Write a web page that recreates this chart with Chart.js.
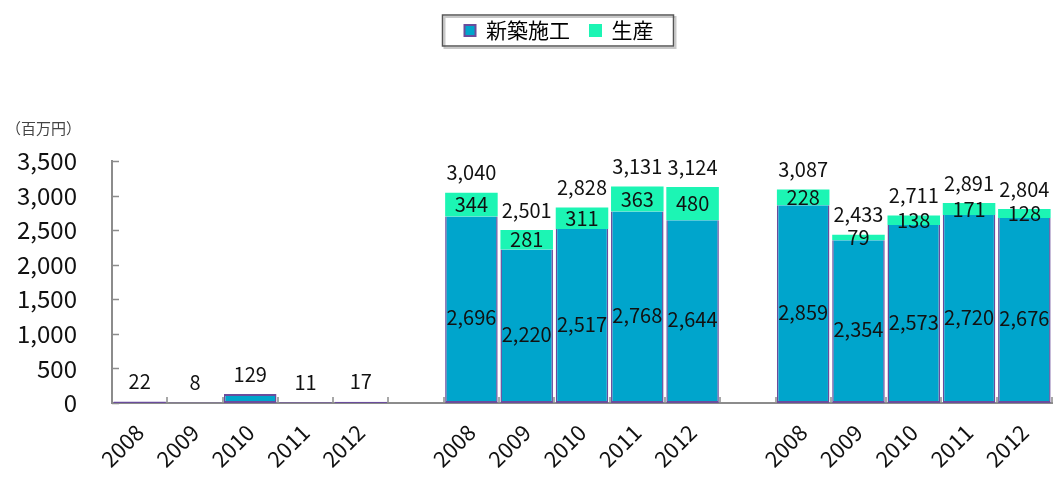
<!DOCTYPE html>
<html>
<head>
<meta charset="utf-8">
<script src="https://cdn.jsdelivr.net/npm/chart.js@4/dist/chart.umd.min.js"></script>
<style>
  body { margin: 0; background: #fff; }
  #wrap { width: 1058px; height: 477px; }
</style>
</head>
<body>
<div id="wrap"><canvas id="chart" width="1058" height="477"></canvas></div>
<script>
const years = ['2008', '2009', '2010', '2011', '2012', '', '2008', '2009', '2010', '2011', '2012', '', '2008', '2009', '2010', '2011', '2012'];
const shinchiku = [22, 8, 129, 11, 17, null, 2696, 2220, 2517, 2768, 2644, null, 2859, 2354, 2573, 2720, 2676];
const seisan = [null, null, null, null, null, null, 344, 281, 311, 363, 480, null, 228, 79, 138, 171, 128];
const yTicks = [0, 500, 1000, 1500, 2000, 2500, 3000, 3500];

const FONT = '"Noto Sans CJK JP", "Liberation Sans", sans-serif';
const fmt = (v) => v.toLocaleString('en-US');

// labels inside segments + totals over bars, inward tick marks, legend frame, unit text
const extras = {
  id: 'extras',
  afterInit(chart) {
    // leave room under the legend, like the original
    const lg = chart.legend;
    const fit = lg.fit;
    lg.fit = function () {
      fit.call(this);
      this.height += 110;
    };
  },
  afterLayout(chart) {
    // legend sits a bit right of the page centre
    chart.legend.left += 33;
    chart.legend.right += 33;
  },
  beforeDatasetsDraw(chart) {
    const ctx = chart.ctx;
    const x = chart.scales.x, y = chart.scales.y;
    ctx.save();
    ctx.strokeStyle = '#8c8c8c';
    ctx.lineWidth = 1.5;
    ctx.beginPath();
    yTicks.forEach((v) => {
      const py = Math.round(y.getPixelForValue(v)) + 0.5;
      ctx.moveTo(x.left, py);
      ctx.lineTo(x.left + 7, py);
    });
    for (let i = 0; i <= years.length; i++) {
      const px = Math.round(x.left + (x.right - x.left) * i / years.length);
      ctx.moveTo(px, y.bottom);
      ctx.lineTo(px, y.bottom - 6);
    }
    ctx.stroke();
    ctx.restore();
  },
  afterDatasetsDraw(chart) {
    const ctx = chart.ctx;
    const y = chart.scales.y;
    ctx.save();
    ctx.font = '20px ' + FONT;
    ctx.fillStyle = '#111';
    ctx.textAlign = 'center';
    ctx.textBaseline = 'middle';
    const m0 = chart.getDatasetMeta(0).data;
    shinchiku.forEach((v, i) => {
      if (v == null) return;
      const p = seisan[i] || 0;
      const cx = m0[i].x;
      if (p > 0) {
        ctx.fillText(fmt(v), cx, (y.getPixelForValue(0) + y.getPixelForValue(v)) / 2 + 8);
        ctx.fillText(fmt(p), cx, (y.getPixelForValue(v) + y.getPixelForValue(v + p)) / 2);
      }
      ctx.fillText(fmt(v + p), cx, y.getPixelForValue(v + p) - 20);
    });
    ctx.restore();
  },
  afterDraw(chart) {
    const ctx = chart.ctx;
    const boxes = chart.legend.legendHitBoxes;
    if (boxes && boxes.length) {
      const l = Math.min(...boxes.map((b) => b.left)) - 22;
      const r = Math.max(...boxes.map((b) => b.left + b.width)) + 20;
      const t = Math.min(...boxes.map((b) => b.top)) - 5;
      const bt = Math.max(...boxes.map((b) => b.top + b.height)) + 5;
      ctx.save();
      ctx.strokeStyle = '#c8c8c8';
      ctx.lineWidth = 2;
      ctx.strokeRect(l + 2, t + 2, r - l, bt - t);
      ctx.strokeStyle = '#555';
      ctx.lineWidth = 1.5;
      ctx.strokeRect(l, t, r - l, bt - t);
      ctx.restore();
    }
    ctx.save();
    ctx.font = '15px ' + FONT;
    ctx.fillStyle = '#444';
    ctx.textBaseline = 'middle';
    ctx.fillText('（百万円）', 6, 128);
    ctx.restore();
  }
};

new Chart(document.getElementById('chart'), {
  type: 'bar',
  data: {
    labels: years,
    datasets: [
      {
        label: '新築施工',
        data: shinchiku,
        backgroundColor: '#00a5cc',
        borderColor: '#6a4c9c',
        borderSkipped: false,
        borderWidth: (c) => ({ left: 1.5, right: 1.5, bottom: 2, top: (seisan[c.dataIndex] || 0) > 0 ? 0 : 2 }),
        barPercentage: 0.95,
        categoryPercentage: 1
      },
      {
        label: '生産',
        data: seisan,
        backgroundColor: '#1cf5b4',
        borderWidth: 0,
        barPercentage: 0.95,
        categoryPercentage: 1
      }
    ]
  },
  options: {
    responsive: false,
    animation: false,
    layout: { padding: { top: 0, right: 6, left: 0, bottom: 0 } },
    plugins: {
      tooltip: { enabled: false },
      legend: {
        position: 'top',
        labels: {
          font: { family: FONT, size: 21 },
          color: '#111',
          boxWidth: 11,
          boxHeight: 11,
          padding: 20,
          generateLabels: (chart) => chart.data.datasets.map((d, i) => ({
            text: d.label,
            fillStyle: d.backgroundColor,
            strokeStyle: i === 0 ? '#6a4c9c' : d.backgroundColor,
            lineWidth: 2,
            datasetIndex: i
          }))
        }
      }
    },
    scales: {
      x: {
        stacked: true,
        grid: { display: false },
        border: { display: true, color: '#8c8c8c', width: 2 },
        ticks: {
          autoSkip: false,
          maxRotation: 45,
          minRotation: 45,
          padding: 8,
          color: '#111',
          font: { family: FONT, size: 22 }
        },
        afterFit: (s) => { s.height = 74; }
      },
      y: {
        stacked: true,
        min: 0,
        max: 3500,
        grid: { display: false },
        border: { display: true, color: '#8c8c8c', width: 2 },
        ticks: {
          stepSize: 500,
          padding: 27,
          color: '#111',
          font: { family: FONT, size: 24 },
          callback: (v) => fmt(v)
        },
        afterFit: (s) => { s.width = 112; }
      }
    }
  },
  plugins: [extras]
});
</script>
</body>
</html>
